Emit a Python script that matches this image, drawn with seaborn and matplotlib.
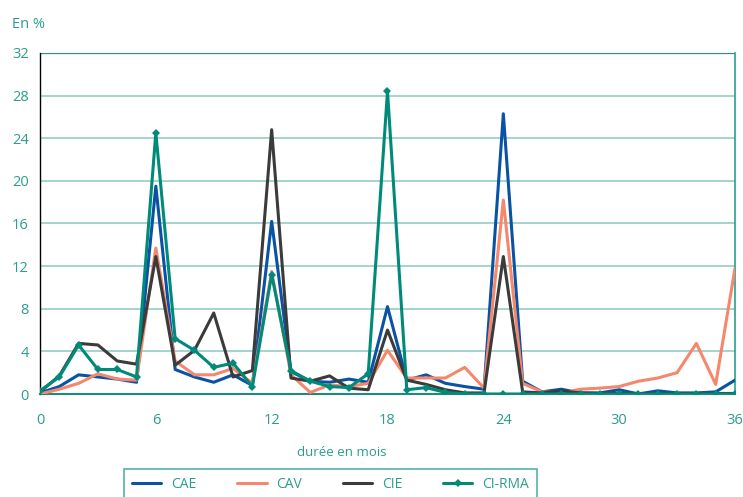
import numpy as np
import pandas as pd
import matplotlib
matplotlib.use("Agg")
import matplotlib.pyplot as plt
import seaborn as sns

months = list(range(37))
cae = [0.1, 0.7, 1.8, 1.6, 1.4, 1.1, 19.5, 2.3, 1.6, 1.1, 1.8, 0.8, 16.2, 2.1, 1.2, 1.1, 1.4, 1.1,
       8.2, 1.3, 1.8, 1.0, 0.7, 0.45, 26.3, 1.2, 0.2, 0.45, 0.1, 0.1, 0.4, 0.0, 0.3, 0.1, 0.1, 0.2, 1.3]
cav = [0.0, 0.45, 1.0, 1.9, 1.4, 1.3, 13.7, 3.1, 1.8, 1.8, 2.4, 1.0, 11.5, 1.8, 0.15, 0.85, 0.7, 1.0,
       4.1, 1.5, 1.5, 1.5, 2.5, 0.55, 18.2, 1.0, 0.2, 0.1, 0.45, 0.55, 0.7, 1.2, 1.5, 2.0, 4.75, 0.9, 11.8]
cie = [0.2, 1.7, 4.75, 4.6, 3.1, 2.8, 12.9, 2.7, 4.1, 7.6, 1.6, 2.2, 24.8, 1.5, 1.2, 1.7, 0.55, 0.4,
       6.0, 1.3, 0.9, 0.4, 0.1, 0.1, 12.9, 0.2, 0.1, 0.3, 0.1, 0.05, 0.05, 0.05, 0.05, 0.05, 0.05, 0.05, 0.05]
cirma = [0.3, 1.6, 4.6, 2.3, 2.3, 1.6, 24.5, 5.2, 4.1, 2.5, 2.9, 0.7, 11.2, 2.2, 1.2, 0.7, 0.6, 1.9,
         28.4, 0.4, 0.6, 0.15, 0.0, 0.0, 0.0, 0.0, 0.0, 0.0, 0.0, 0.0, 0.0, 0.0, 0.0, 0.0, 0.0, 0.0, 0.0]
series_names = ["CAE", "CAV", "CIE", "CI-RMA"]
x_ticks = [0, 6, 12, 18, 24, 30, 36]
y_ticks = [0, 4, 8, 12, 16, 20, 24, 28, 32]

colors = {"CAE": "#0a52a3", "CAV": "#f4876c", "CIE": "#3b3b3b", "CI-RMA": "#008a7a"}
teal_text = "#2a9d8f"
grid_col = "#9fd0c9"

sns.set_style("white")
plt.rcParams["font.family"] = ["Open Sans", "DejaVu Sans"]

fig = plt.figure(figsize=(7.43, 4.97), dpi=100)
ax = fig.add_axes([40/743, 1-394/497, (735-40)/743, (394-53)/497])

df = pd.DataFrame({"mois": months * 4,
                   "val": cae + cav + cie + cirma,
                   "serie": sum([[n] * len(months) for n in series_names], [])})

for name in series_names:
    sub = df[df["serie"] == name]
    kw = dict(marker="D", markersize=4, markeredgewidth=0) if name == "CI-RMA" else {}
    sns.lineplot(data=sub, x="mois", y="val", ax=ax, color=colors[name], lw=2.2,
                 label=name, zorder=3, **kw)

ax.set_xlim(0, 36)
ax.set_ylim(0, 32)
ax.set_xticks(x_ticks)
ax.set_yticks(y_ticks)
for y in y_ticks[1:-1]:
    ax.axhline(y, color=grid_col, lw=1.3, zorder=1)
ax.axhline(32, color="#1f9586", lw=1.6, zorder=1)

ax.spines["top"].set_visible(False)
ax.spines["left"].set_color("black")
ax.spines["left"].set_linewidth(1.0)
ax.spines["right"].set_color("#2aa08f")
ax.spines["right"].set_linewidth(1.2)
ax.spines["bottom"].set_color("#1f8a7c")
ax.spines["bottom"].set_linewidth(1.5)

ax.tick_params(axis="both", colors=teal_text, labelsize=10.5, length=4, width=1, direction="out")
ax.tick_params(axis="x", color="#333333", pad=10)
ax.tick_params(axis="y", color="#333333", pad=4)
ax.set_xlabel("")
ax.set_ylabel("")

fig.text(12/743, 1-24/497, "En %", color=teal_text, fontsize=10.5, va="center", ha="left")
fig.text(342/743, 1-452/497, "durée en mois", color=teal_text, fontsize=9.5, va="center", ha="center")

ax.get_legend().remove()
handles, labels = ax.get_legend_handles_labels()
leg = fig.legend(handles, labels, ncol=4, loc="upper left",
                 bbox_to_anchor=(117/743, 1-462/497, (544-117)/743, 0.0),
                 mode="expand", frameon=True, fancybox=False, fontsize=10,
                 handlelength=2.1, borderpad=0.6, handletextpad=0.7)
leg.get_frame().set_edgecolor("#2aa08f")
leg.get_frame().set_linewidth(1.2)
for t in leg.get_texts():
    t.set_color(teal_text)

fig.savefig("out.png", dpi=100)
